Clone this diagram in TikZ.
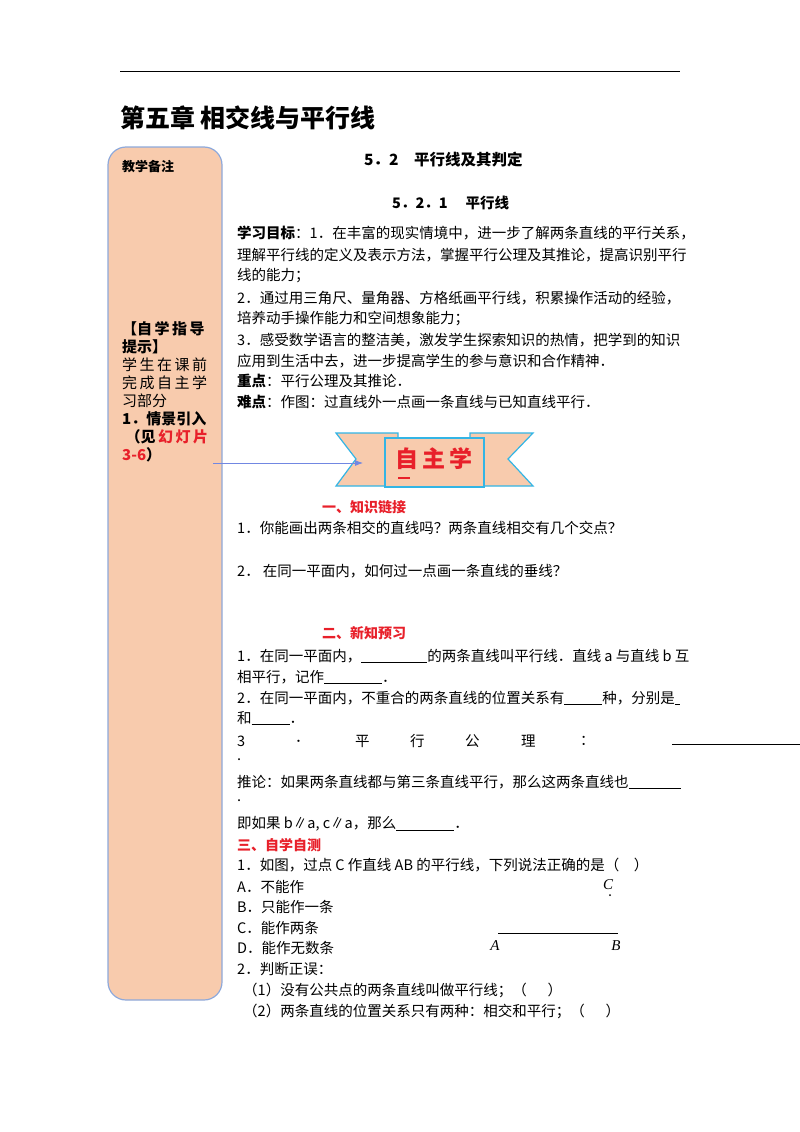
\documentclass[tikz,border=0pt]{standalone}
\usepackage{fontspec}
\usetikzlibrary{arrows.meta}
\setmainfont{Noto Sans CJK SC}
\newfontfamily\lserif{Liberation Serif}
\definecolor{peach}{HTML}{F8CBAD}
\definecolor{bord}{HTML}{8EA9DB}
\definecolor{ban}{HTML}{33B5E5}
\definecolor{rd}{HTML}{E8202A}
\begin{document}
\begin{tikzpicture}[x=1pt,y=-1pt,
  t/.style={anchor=west,inner sep=0pt,font=\fontsize{14.5}{17}\selectfont},
  rt/.style={t,text=rd,font=\fontsize{14}{17}\selectfont\bfseries},
  it/.style={inner sep=0pt,font=\fontsize{15}{16}\selectfont\lserif\itshape},
  bl/.style={line width=0.6pt}]
\useasboundingbox (0,0) rectangle (800,1132);
\fill[white] (0,0) rectangle (800,1132);
\draw[line width=1pt] (120,72) -- (680,72);
\node[t,font=\fontsize{25}{28}\selectfont\bfseries] (title) at (120,118) {第五章\ 相交线与平行线};
\draw[bord,fill=peach,line width=1.2pt,rounded corners=18pt] (108,147) rectangle (222,1000);
\node[t,font=\fontsize{13}{16}\selectfont\bfseries] (sb1) at (122,167) {教学备注};
\node[t,anchor=north west,align=left,font=\fontsize{15}{18}\selectfont] (sb2) at (122,321)
 {\textbf{【自\,学\,指\,导}\\\textbf{提示】}\\学\,生\,在\,课\,前\\完\,成\,自\,主\,学\\习部分\\\textbf{1．情景引入}\\\textbf{\ （见\,\textcolor{rd}{幻\,灯\,片}}\\\textbf{\textcolor{rd}{3-6}）}};
\node[t,font=\fontsize{15.5}{18}\selectfont\bfseries] (h1) at (364,160) {5．2\quad 平行线及其判定};
\node[t,font=\fontsize{14.5}{18}\selectfont\bfseries] (h2) at (392,203) {5．2．1\quad\ 平行线};
\node[t] (l1) at (237,233) {\textbf{学习目标}：1．在丰富的现实情境中，进一步了解两条直线的平行关系，};
\node[t] (l2) at (237,255) {理解平行线的定义及表示方法，掌握平行公理及其推论，提高识别平行};
\node[t] (l3) at (237,276) {线的能力；};
\node[t] (l4) at (237,298) {2．通过用三角尺、量角器、方格纸画平行线，积累操作活动的经验，};
\node[t] (l5) at (237,319) {培养动手操作能力和空间想象能力；};
\node[t] (l6) at (237,340) {3．感受数学语言的整洁美，激发学生探索知识的热情，把学到的知识};
\node[t] (l7) at (237,361) {应用到生活中去，进一步提高学生的参与意识和合作精神．};
\node[t] (l8) at (237,381) {\textbf{重点}：平行公理及其推论．};
\node[t] (l9) at (237,402) {\textbf{难点}：作图：过直线外一点画一条直线与已知直线平行．};
% banner
\draw[ban,fill=peach,line width=1.2pt] (336,433) -- (398,433) -- (398,486) -- (336,486) -- (356,459) -- cycle;
\draw[ban,fill=peach,line width=1.2pt] (533,433) -- (470,433) -- (470,486) -- (533,486) -- (508,459) -- cycle;
\draw[ban,fill=peach,line width=1.2pt] (385,438) rectangle (484,487);
\node[inner sep=0pt,text=rd,font=\fontsize{23}{26}\selectfont\bfseries] (ban) at (434,459) {自\,主\,学};
\draw[rd,line width=1.2pt] (398,478) -- (410,478);
\coordinate (arrs) at (213,463);
\coordinate (arre) at (363,463);
\draw[bord!80!blue,line width=0.8pt,-{Latex[length=8pt]}] (arrs) -- (arre);
\node[rt] (s1) at (322,507) {一、知识链接};
\node[t] (k1) at (237,528) {1．你能画出两条相交的直线吗？两条直线相交有几个交点？};
\node[t] (k2) at (237,571) {2．\ 在同一平面内，如何过一点画一条直线的垂线？};
\node[rt] (s2) at (322,633) {二、新知预习};
\node[t] (p1) at (237,656) {1．在同一平面内，\underline{\hspace{66pt}}的两条直线叫平行线．直线 a 与直线 b 互};
\node[t] (p2) at (237,677) {相平行，记作\underline{\hspace{58pt}}．};
\node[t] (p3) at (237,698) {2．在同一平面内，不重合的两条直线的位置关系有\underline{\hspace{38pt}}种，分别是\underline{\hspace{5pt}}};
\node[t] (p4) at (237,718) {和\underline{\hspace{38pt}}．};
\node[t] (p5a) at (237,741) {3};
\node[t] (p5b) at (295,741) {．};
\node[t] (p5c) at (355,741) {平};
\node[t] (p5d) at (410,741) {行};
\node[t] (p5e) at (465,741) {公};
\node[t] (p5f) at (521,741) {理};
\node[t] (p5g) at (580,741) {：};
\draw[bl] (672,744) -- (800,744);
\node[t] (p6) at (237,760) {.};
\node[t] (p7) at (237,782) {推论：如果两条直线都与第三条直线平行，那么这两条直线也\underline{\hspace{52pt}}};
\node[t] (p8) at (237,801) {.};
\node[t] (p9) at (237,824) {即如果 b∥a, c∥a，那么\underline{\hspace{58pt}}．};
\node[rt] (s3) at (237,845) {三、自学自测};
\node[t] (q1) at (237,865) {1．如图，过点 C 作直线 AB 的平行线，下列说法正确的是（\quad ）};
\node[t] (qa) at (237,887) {A．不能作};
\node[t] (qb) at (237,907) {B．只能作一条};
\node[t] (qc) at (237,928) {C．能作两条};
\node[t] (qd) at (237,948) {D．能作无数条};
\node[t] (q2) at (237,969) {2．判断正误：};
\node[t] (q3) at (243,990) {（1）没有公共点的两条直线叫做平行线；（\quad\ \ ）};
\node[t] (q4) at (243,1011) {（2）两条直线的位置关系只有两种：相交和平行；（\quad\ \ ）};
\node[it] (C) at (608,885) {C};
\fill (610,895) circle (1pt);
\coordinate (Aend) at (498,933);
\coordinate (Bend) at (618,933);
\draw[bl] (Aend) -- (Bend);
\node[it] (A) at (495,946) {A};
\node[it] (B) at (616,946) {B};
\end{tikzpicture}
\end{document}
